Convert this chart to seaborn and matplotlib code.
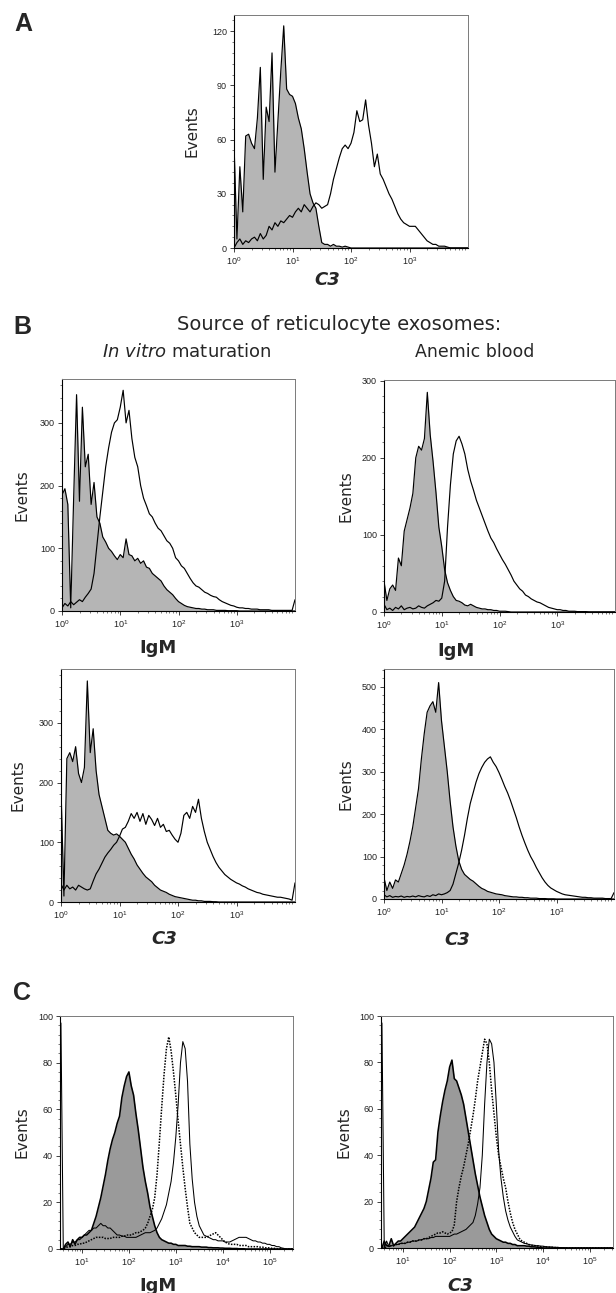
import matplotlib

matplotlib.use("Agg")
import matplotlib.pyplot as plt
import numpy as np
import pandas as pd
import seaborn as sns
from matplotlib.ticker import AutoMinorLocator, FixedLocator, LogLocator, MultipleLocator, NullFormatter


# log10 fluorescence channel for panels A and B (4-decade scale)
GRID_AB = [
    0.00, 0.05, 0.10, 0.15, 0.20, 0.25, 0.30, 0.35, 0.40, 0.45,
    0.50, 0.55, 0.60, 0.65, 0.70, 0.75, 0.80, 0.85, 0.90, 0.95,
    1.00, 1.05, 1.10, 1.15, 1.20, 1.25, 1.30, 1.35, 1.40, 1.45,
    1.50, 1.55, 1.60, 1.65, 1.70, 1.75, 1.80, 1.85, 1.90, 1.95,
    2.00, 2.05, 2.10, 2.15, 2.20, 2.25, 2.30, 2.35, 2.40, 2.45,
    2.50, 2.55, 2.60, 2.65, 2.70, 2.75, 2.80, 2.85, 2.90, 2.95,
    3.00, 3.05, 3.10, 3.15, 3.20, 3.25, 3.30, 3.35, 3.40, 3.45,
    3.50, 3.55, 3.60, 3.65, 3.70, 3.75, 3.80, 3.85, 3.90, 3.95,
    4.00,
]

# log10 fluorescence channel for panel C
GRID_C = [
    0.55, 0.60, 0.65, 0.70, 0.75, 0.80, 0.85, 0.90, 0.95, 1.00,
    1.05, 1.10, 1.15, 1.20, 1.25, 1.30, 1.35, 1.40, 1.45, 1.50,
    1.55, 1.60, 1.65, 1.70, 1.75, 1.80, 1.85, 1.90, 1.95, 2.00,
    2.05, 2.10, 2.15, 2.20, 2.25, 2.30, 2.35, 2.40, 2.45, 2.50,
    2.55, 2.60, 2.65, 2.70, 2.75, 2.80, 2.85, 2.90, 2.95, 3.00,
    3.05, 3.10, 3.15, 3.20, 3.25, 3.30, 3.35, 3.40, 3.45, 3.50,
    3.55, 3.60, 3.65, 3.70, 3.75, 3.80, 3.85, 3.90, 3.95, 4.00,
    4.05, 4.10, 4.15, 4.20, 4.25, 4.30, 4.35, 4.40, 4.45, 4.50,
    4.55, 4.60, 4.65, 4.70, 4.75, 4.80, 4.85, 4.90, 4.95, 5.00,
    5.05, 5.10, 5.15, 5.20, 5.25, 5.30, 5.35, 5.40, 5.45, 5.50,
]

# Panel A: C3
A_CONTROL = [
    58, 5, 45, 20, 62, 63, 58, 55, 72, 100,
    38, 78, 70, 108, 42, 70, 98, 123, 88, 85,
    84, 80, 72, 66, 55, 42, 30, 25, 22, 12,
    3, 2, 2, 1, 2, 1, 1, 0.5, 1, 0.5,
    0, 0, 0, 0, 0, 0, 0, 0, 0, 0,
    0, 0, 0, 0, 0, 0, 0, 0, 0, 0,
    0, 0, 0, 0, 0, 0, 0, 0, 0, 0,
    0, 0, 0, 0, 0, 0, 0, 0, 0, 0,
    0,
]
A_C3 = [
    0, 3, 5, 2, 4, 3, 5, 6, 4, 8,
    5, 7, 12, 10, 14, 12, 15, 14, 16, 18,
    17, 20, 22, 20, 24, 22, 20, 23, 25, 24,
    22, 23, 24, 30, 38, 44, 50, 55, 57, 55,
    58, 64, 76, 70, 71, 82, 68, 58, 45, 52,
    41, 38, 34, 30, 27, 23, 19, 16, 14, 13,
    12, 12, 12, 10, 8, 6, 4, 3, 2, 2,
    1, 1, 1, 0.5, 0, 0, 0, 0, 0, 0,
    0,
]

# Panel B: in vitro maturation, IgM
BIV_IGM_CONTROL = [
    185, 195, 170, 5, 180, 345, 175, 325, 230, 250,
    170, 205, 150, 140, 118, 110, 100, 95, 88, 82,
    90, 85, 115, 90, 88, 80, 84, 76, 80, 70,
    68, 60, 56, 52, 48, 40, 34, 30, 26, 20,
    15, 12, 9, 7, 6, 5, 4, 4, 3, 3,
    2, 2, 2, 1, 1, 1, 1, 0.5, 0.5, 0.5,
    0.5, 0, 0, 0, 0, 0, 0, 0, 0, 0,
    0, 0, 0, 0, 0, 0, 0, 0, 0, 0,
    0,
]
BIV_IGM = [
    5, 12, 8, 15, 10, 14, 18, 15, 22, 28,
    35, 60, 105, 150, 190, 230, 260, 285, 300, 305,
    325, 352, 300, 320, 275, 245, 230, 200, 180, 168,
    155, 150, 140, 132, 128, 120, 112, 108, 100, 85,
    80, 72, 68, 60, 52, 45, 40, 38, 34, 30,
    28, 25, 23, 22, 18, 15, 13, 11, 9, 8,
    6, 5, 5, 4, 4, 3, 3, 3, 2, 2,
    2, 2, 1, 1, 1, 1, 1, 1, 1, 1,
    18,
]

# Panel B: anemic blood, IgM
ANE_IGM_CONTROL = [
    40, 15, 30, 35, 28, 70, 60, 105, 120, 135,
    154, 200, 215, 210, 225, 285, 230, 195, 155, 110,
    85, 55, 38, 28, 20, 15, 14, 12, 9, 8,
    10, 8, 6, 5, 4, 4, 3, 3, 2, 2,
    1, 1, 1, 0.5, 0, 0, 0, 0, 0, 0,
    0, 0, 0, 0, 0, 0, 0, 0, 0, 0,
    0, 0, 0, 0, 0, 0, 0, 0, 0, 0,
    0, 0, 0, 0, 0, 0, 0, 0, 0, 0,
    0,
]
ANE_IGM = [
    10, 3, 5, 2, 6, 4, 8, 3, 5, 6,
    4, 5, 8, 6, 5, 8, 10, 12, 15, 14,
    18, 40, 110, 165, 205, 222, 228, 218, 205, 185,
    170, 158, 145, 135, 125, 115, 105, 96, 90, 82,
    75, 68, 62, 55, 48, 40, 35, 30, 27, 22,
    20, 17, 15, 13, 12, 10, 8, 6, 5, 4,
    3, 3, 2, 2, 1, 1, 1, 0.5, 0.5, 0.5,
    0.5, 0, 0, 0, 0, 0, 0, 0, 0, 0,
    0,
]

# Panel B: in vitro maturation, C3
BIV_C3_CONTROL = [
    190, 10, 240, 250, 235, 260, 215, 200, 225, 370,
    250, 290, 220, 180, 160, 140, 120, 115, 112, 114,
    110, 105, 100, 90, 80, 72, 62, 55, 48, 42,
    38, 34, 28, 24, 20, 18, 16, 13, 11, 9,
    8, 7, 6, 5, 4, 3, 3, 2, 2, 1,
    1, 1, 0.5, 0.5, 0, 0, 0, 0, 0, 0,
    0, 0, 0, 0, 0, 0, 0, 0, 0, 0,
    0, 0, 0, 0, 0, 0, 0, 0, 0, 0,
    0,
]
BIV_C3 = [
    30, 20, 28, 22, 25, 20, 28, 25, 22, 20,
    22, 35, 47, 55, 65, 75, 82, 88, 95, 100,
    110, 122, 125, 135, 148, 140, 150, 135, 148, 130,
    145, 138, 128, 140, 125, 130, 118, 120, 112, 105,
    100, 115, 145, 150, 140, 160, 150, 172, 140, 118,
    100, 88, 76, 66, 58, 52, 46, 42, 38, 35,
    32, 30, 27, 25, 22, 20, 18, 16, 15, 13,
    12, 11, 10, 9, 8, 8, 7, 6, 5, 3,
    32,
]

# Panel B: anemic blood, C3
ANE_C3_CONTROL = [
    50, 20, 40, 25, 45, 40, 60, 80, 105, 135,
    170, 215, 260, 330, 390, 440, 455, 465, 440, 510,
    420, 360, 300, 230, 170, 125, 90, 70, 58, 52,
    46, 42, 36, 30, 25, 22, 18, 16, 14, 12,
    11, 10, 8, 7, 6, 5, 5, 4, 4, 3,
    3, 2, 2, 2, 1, 1, 1, 0.5, 0.5, 0.5,
    0, 0, 0, 0, 0, 0, 0, 0, 0, 0,
    0, 0, 0, 0, 0, 0, 0, 0, 0, 0,
    0,
]
ANE_C3 = [
    10, 5, 8, 4, 6, 5, 7, 4, 6, 5,
    7, 5, 8, 6, 5, 8, 6, 10, 8, 12,
    10, 12, 15, 20, 35, 60, 85, 115, 150, 190,
    225, 250, 275, 295, 310, 322, 330, 335, 322, 312,
    298, 282, 265, 250, 232, 212, 192, 170, 150, 132,
    115, 100, 88, 74, 62, 50, 40, 32, 26, 22,
    18, 15, 12, 10, 9, 8, 7, 6, 5, 4,
    4, 3, 3, 2, 2, 2, 2, 1, 1, 1,
    15,
]

# Panel C: IgM
C_IGM_CONTROL = [
    0, 0, 2, 3, 1, 4, 2, 4, 5, 5,
    6, 6, 7, 8, 11, 14, 18, 22, 27, 32,
    38, 43, 47, 50, 54, 57, 65, 70, 74, 76,
    70, 66, 58, 51, 43, 35, 29, 24, 18, 14,
    10, 7, 5, 4, 3.5, 3, 2.5, 2.5, 2, 2,
    1.5, 1.5, 1.5, 1.5, 1.2, 1.2, 1, 1, 1, 1,
    0.8, 0.8, 0.8, 0.6, 0.6, 0.5, 0.5, 0.5, 0.4, 0.4,
    0.3, 0.3, 0.3, 0.2, 0.2, 0.2, 0.1, 0.1, 0.1, 0,
    0, 0, 0, 0, 0, 0, 0, 0, 0, 0,
    0, 0, 0, 0, 0, 0, 0, 0, 0, 0,
]
C_IGM_SOLID = [
    97, 0, 1, 2, 2, 3, 3, 4, 4, 5,
    6, 7, 8, 8, 9, 9, 10, 11, 10, 10,
    9, 9, 8, 7, 6, 6, 5.5, 5.5, 5, 5,
    5, 5, 5, 5.5, 6, 6.5, 7, 7, 7, 7.5,
    8, 9, 11, 13, 16, 19, 24, 29, 37, 48,
    62, 80, 89, 86, 72, 45, 30, 20, 14, 10,
    8, 6, 5.5, 5, 4.5, 4, 4, 3.5, 3.5, 3.5,
    3, 3, 3, 3.5, 4, 4.5, 5, 5, 5, 5,
    4.5, 4, 3.5, 3.5, 3, 3, 2.5, 2.5, 2, 2,
    1.5, 1.5, 1, 1, 0.5, 0.3, 0, 0, 0, 0,
]
C_IGM_DOTTED = [
    0, 0, 0.5, 1, 1, 1.5, 1.5, 2, 2, 2.5,
    2.5, 3, 3.5, 4, 4.5, 5, 5, 5, 5, 4.5,
    4.5, 4.5, 5, 5, 5, 5, 5.5, 5.5, 6, 6,
    6, 6.5, 7, 7, 7.5, 8, 9, 11, 14, 17,
    22, 32, 46, 61, 75, 86, 91, 85, 76, 66,
    55, 45, 35, 26, 18, 11, 9, 7, 6, 5,
    5, 5, 5, 5.5, 6, 6.5, 7, 6, 5, 4,
    3, 2.5, 2, 2, 2, 2, 1.5, 1.5, 1.5, 1.5,
    1, 1, 1, 1, 1, 0.8, 0.8, 0.5, 0.5, 0.5,
    0.3, 0.3, 0, 0, 0, 0, 0, 0, 0, 0,
]

# Panel C: C3
C_C3_CONTROL = [
    0, 3, 1, 1, 4, 1, 2, 3, 3, 4,
    5, 6, 7, 8, 9, 11, 13, 15, 17, 20,
    25, 30, 37, 38, 50, 57, 63, 68, 72, 78,
    81, 73, 72, 69, 66, 62, 56, 50, 44, 38,
    32, 27, 22, 18, 14, 11, 8, 6, 5, 4,
    3.5, 3, 2.5, 2.5, 2, 2, 1.5, 1.5, 1, 1,
    1, 1, 0.8, 0.8, 0.5, 0.5, 0.4, 0.3, 0.2, 0,
    0, 0, 0, 0, 0, 0, 0, 0, 0, 0,
    0, 0, 0, 0, 0, 0, 0, 0, 0, 0,
    0, 0, 0, 0, 0, 0, 0, 0, 0, 0,
]
C_C3_SOLID = [
    97, 0, 3, 0.5, 1, 1, 1.5, 1.5, 2, 2,
    2, 2.5, 2.5, 3, 3, 3, 3.5, 3.5, 4, 4,
    4, 4.5, 4.5, 5, 5, 5, 5, 5, 5, 5,
    5.5, 6, 6, 6.5, 7, 7.5, 8, 9, 10, 11,
    14, 19, 26, 40, 62, 80, 90, 88, 80, 62,
    42, 30, 22, 16, 12, 9, 7, 5, 3.5, 3,
    2.5, 2, 1.8, 1.5, 1.3, 1.2, 1, 1, 0.8, 0.8,
    0.6, 0.5, 0.5, 0.4, 0.3, 0.3, 0.2, 0.2, 0.1, 0.1,
    0, 0, 0, 0, 0, 0, 0, 0, 0, 0,
    0, 0, 0, 0, 0, 0, 0, 0, 0, 0,
]
C_C3_DOTTED = [
    0, 0, 0.5, 1, 1, 1, 1.5, 1.5, 2, 2,
    2, 2.5, 2.5, 3, 3, 3, 3.5, 3.5, 4, 4,
    4.5, 5, 5.5, 6, 6.5, 6.5, 7, 6.5, 6, 6.5,
    7, 10, 20, 26, 31, 35, 40, 45, 51, 57,
    64, 72, 78, 84, 90, 88, 80, 68, 58, 48,
    40, 35, 30, 26, 20, 15, 11, 8, 6, 4,
    3, 2.5, 2, 1.5, 1.2, 1, 1, 0.8, 0.6, 0.5,
    0.5, 0.4, 0.3, 0.3, 0.2, 0.2, 0.1, 0.1, 0, 0,
    0, 0, 0, 0, 0, 0, 0, 0, 0, 0,
    0, 0, 0, 0, 0, 0, 0, 0, 0, 0,
]

FIG_W, FIG_H = 616, 1293
GRAY_AB = "#b5b5b5"
GRAY_C = "#9a9a9a"
TICK_FONT = "Liberation Sans"
LABEL_FONT = "DejaVu Sans"


def rect(left, top, right, bottom):
    return [left / FIG_W, 1 - bottom / FIG_H, (right - left) / FIG_W, (bottom - top) / FIG_H]


def make_frame(grid, **curves):
    channel = 10 ** np.asarray(grid, dtype=float)
    parts = []
    for name, values in curves.items():
        assert len(values) == len(grid), name
        parts.append(pd.DataFrame({"channel": channel, "events": values, "stain": name}))
    return pd.concat(parts, ignore_index=True)


def draw_panel(ax, frame, fill_color, widths):
    control = frame[frame["stain"] == "control"]
    ax.fill_between(control["channel"], 0, control["events"], color=fill_color, linewidth=0, zorder=1)
    stains = frame["stain"].unique().tolist()
    dashes = {name: ((1, 0.9) if name == "dotted" else "") for name in stains}
    sns.lineplot(
        data=frame, x="channel", y="events", hue="stain", style="stain", size="stain",
        palette={name: "black" for name in stains}, dashes=dashes, sizes=widths,
        estimator=None, legend=False, ax=ax, zorder=2,
    )


def style_axis(ax, ymax, ystep, xlim, majors, xlabel, italic, label_xy, events_x):
    ax.set_xscale("log")
    ax.set_xlim(*xlim)
    ax.set_ylim(0, ymax)
    ax.xaxis.set_major_locator(FixedLocator(majors))
    ax.xaxis.set_minor_locator(LogLocator(base=10, subs=np.arange(2, 10), numticks=20))
    ax.xaxis.set_minor_formatter(NullFormatter())
    ax.yaxis.set_major_locator(MultipleLocator(ystep))
    ax.yaxis.set_minor_locator(AutoMinorLocator(5))
    for side in ("left", "bottom"):
        ax.spines[side].set_color("black")
        ax.spines[side].set_linewidth(0.8)
    for side in ("top", "right"):
        ax.spines[side].set_visible(True)
        ax.spines[side].set_color("#7a7a7a")
        ax.spines[side].set_linewidth(0.7)
    ax.tick_params(which="major", length=3, width=0.6, labelsize=6.5, colors="#222222", pad=2)
    ax.tick_params(which="minor", length=1.6, width=0.5, colors="#444444")
    for label in ax.get_xticklabels() + ax.get_yticklabels():
        label.set_family(TICK_FONT)
    ax.set_ylabel("Events", fontsize=11, family=LABEL_FONT)
    ax.yaxis.set_label_coords(events_x, 0.5)
    ax.set_xlabel(xlabel, fontsize=13, fontweight="bold", family=LABEL_FONT,
                  fontstyle="italic" if italic else "normal")
    ax.xaxis.set_label_coords(*label_xy)
    ax.grid(False)


sns.set_theme(style="ticks")
plt.rcParams["font.family"] = [TICK_FONT, "DejaVu Sans"]
plt.rcParams["mathtext.default"] = "regular"

fig = plt.figure(figsize=(FIG_W / 100, FIG_H / 100), dpi=100)

LIM_AB = (1, 1e4)
LIM_C = (10 ** 0.53, 10 ** 5.5)
MAJ_AB = [1, 10, 100, 1000]
MAJ_C = [10, 100, 1000, 1e4, 1e5]
W_AB = {"control": 0.85, "sample": 0.85}
W_C = {"control": 1.15, "solid": 0.75, "dotted": 1.1}

# A
ax = fig.add_axes(rect(234, 15, 468, 248))
draw_panel(ax, make_frame(GRID_AB, control=A_CONTROL, sample=A_C3), GRAY_AB, W_AB)
style_axis(ax, 129, 30, LIM_AB, MAJ_AB, "C3", True, (0.40, -0.10), -0.146)

# B
ax = fig.add_axes(rect(62, 379, 295, 611))
draw_panel(ax, make_frame(GRID_AB, control=BIV_IGM_CONTROL, sample=BIV_IGM), GRAY_AB, W_AB)
style_axis(ax, 370, 100, LIM_AB, MAJ_AB, "IgM", False, (0.41, -0.12), -0.14)

ax = fig.add_axes(rect(384, 380, 615, 612))
draw_panel(ax, make_frame(GRID_AB, control=ANE_IGM_CONTROL, sample=ANE_IGM), GRAY_AB, W_AB)
style_axis(ax, 301, 100, LIM_AB, MAJ_AB, "IgM", False, (0.31, -0.13), -0.131)

ax = fig.add_axes(rect(61, 669, 295, 902))
draw_panel(ax, make_frame(GRID_AB, control=BIV_C3_CONTROL, sample=BIV_C3), GRAY_AB, W_AB)
style_axis(ax, 390, 100, LIM_AB, MAJ_AB, "C3", True, (0.44, -0.12), -0.15)

ax = fig.add_axes(rect(384, 669, 614, 899))
draw_panel(ax, make_frame(GRID_AB, control=ANE_C3_CONTROL, sample=ANE_C3), GRAY_AB, W_AB)
style_axis(ax, 542, 100, LIM_AB, MAJ_AB, "C3", True, (0.32, -0.14), -0.131)

# C
ax = fig.add_axes(rect(60, 1016, 293, 1249))
draw_panel(ax, make_frame(GRID_C, control=C_IGM_CONTROL, solid=C_IGM_SOLID, dotted=C_IGM_DOTTED), GRAY_C, W_C)
style_axis(ax, 100, 20, LIM_C, MAJ_C, "IgM", False, (0.42, -0.12), -0.131)

ax = fig.add_axes(rect(381, 1016, 613, 1248))
draw_panel(ax, make_frame(GRID_C, control=C_C3_CONTROL, solid=C_C3_SOLID, dotted=C_C3_DOTTED), GRAY_C, W_C)
style_axis(ax, 100, 20, LIM_C, MAJ_C, "C3", True, (0.34, -0.125), -0.126)


def fig_text(x, y, text, **kw):
    fig.text(x / FIG_W, 1 - y / FIG_H, text, ha="center", va="center", **kw)


for letter, (lx, ly) in {"A": (23, 24), "B": (22, 327), "C": (22, 993)}.items():
    fig_text(lx, ly, letter, fontsize=18, fontweight="bold", family=TICK_FONT)

fig_text(339, 325, "Source of reticulocyte exosomes:", fontsize=14, family=LABEL_FONT)
fig_text(187, 352, r"$\mathit{In\ vitro}$ maturation", fontsize=13, family=LABEL_FONT)
fig_text(475, 352, "Anemic blood", fontsize=12.5, family=LABEL_FONT)

fig.savefig("out.png", dpi=100)
plt.close(fig)
